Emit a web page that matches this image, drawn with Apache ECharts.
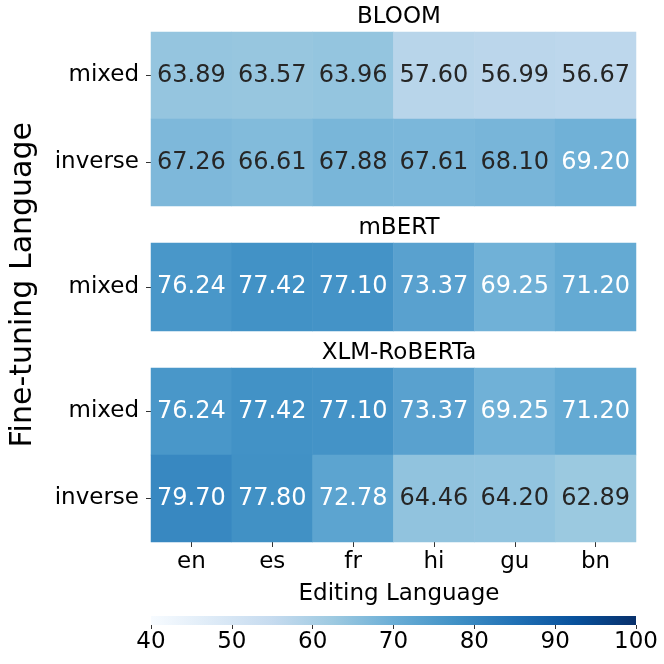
<!DOCTYPE html>
<html>
<head>
<meta charset="utf-8">
<script src="https://cdn.jsdelivr.net/npm/echarts@6/dist/echarts.min.js"></script>
<style>
  html, body { margin: 0; padding: 0; background: #fff; }
  #main { width: 664px; height: 664px; }
</style>
</head>
<body>
<div id="main"></div>
<script>
var myChart = echarts.init(document.getElementById('main'));

// editing languages (columns)
var langs = ['en', 'es', 'fr', 'hi', 'gu', 'bn'];
var rowsTwo = ['mixed', 'inverse'];
var rowsOne = ['mixed'];

var bloomMixed = [63.89, 63.57, 63.96, 57.60, 56.99, 56.67];
var bloomInverse = [67.26, 66.61, 67.88, 67.61, 68.10, 69.20];
var mbertMixed = [76.24, 77.42, 77.10, 73.37, 69.25, 71.20];
var xlmrMixed = [76.24, 77.42, 77.10, 73.37, 69.25, 71.20];
var xlmrInverse = [79.70, 77.80, 72.78, 64.46, 64.20, 62.89];

var cbTicks = [40, 50, 60, 70, 80, 90, 100];

// matplotlib "Blues"
var blues = ['#f7fbff', '#deebf7', '#c6dbef', '#9ecae1', '#6baed6',
             '#4292c6', '#2171b5', '#08519c', '#08306b'];

var font = 'DejaVu Sans';

function cells(rows) {
  var out = [];
  rows.forEach(function (vals, r) {
    vals.forEach(function (v, c) {
      out.push({
        value: [c, r, v],
        label: { color: v > 69 ? '#ffffff' : '#262626' }
      });
    });
  });
  return out;
}

function yAx(idx, cats) {
  return {
    type: 'category', gridIndex: idx, data: cats, inverse: true,
    axisLine: { show: false },
    axisTick: { show: true, length: 5, alignWithLabel: true, lineStyle: { color: '#333' } },
    axisLabel: { fontFamily: font, fontSize: 23, color: '#000', margin: 12 },
    splitArea: { show: false }
  };
}

function xAx(idx, show) {
  return {
    type: 'category', gridIndex: idx, data: langs,
    axisLine: { show: false },
    axisTick: { show: show, length: 5, alignWithLabel: true, lineStyle: { color: '#333' } },
    axisLabel: { show: show, fontFamily: font, fontSize: 23, color: '#000', margin: 9 },
    splitArea: { show: false }
  };
}

function hm(idx, data) {
  return {
    type: 'heatmap', xAxisIndex: idx, yAxisIndex: idx, data: data,
    label: {
      show: true, fontFamily: font, fontSize: 24,
      formatter: function (p) { return p.value[2].toFixed(2); }
    },
    itemStyle: { borderWidth: 0 },
    emphasis: { disabled: true }
  };
}

var titleStyle = { fontFamily: font, fontSize: 23, fontWeight: 'normal', color: '#000' };

option = {
  animation: false,
  title: [
    { text: 'BLOOM', left: 394, top: 1, textAlign: 'center', textStyle: titleStyle },
    { text: 'mBERT', left: 394, top: 212, textAlign: 'center', textStyle: titleStyle },
    { text: 'XLM-RoBERTa', left: 394, top: 337, textAlign: 'center', textStyle: titleStyle },
    { text: 'Editing Language', left: 394, top: 578, textAlign: 'center', textStyle: titleStyle }
  ],
  grid: [
    { left: 151, right: 28, top: 32, height: 174 },
    { left: 151, right: 28, top: 243, height: 88 },
    { left: 151, right: 28, top: 368, height: 174 },
    {
      left: 151, right: 28, top: 616, height: 9, show: true, borderWidth: 0,
      backgroundColor: new echarts.graphic.LinearGradient(0, 0, 1, 0,
        blues.map(function (c, i) { return { offset: i / (blues.length - 1), color: c }; }))
    }
  ],
  xAxis: [
    xAx(0, false), xAx(1, false), xAx(2, true),
    {
      type: 'value', gridIndex: 3, min: cbTicks[0], max: cbTicks[cbTicks.length - 1], interval: 10,
      axisLine: { show: false }, splitLine: { show: false },
      axisTick: { show: true, length: 4, lineStyle: { color: '#333' } },
      axisLabel: { fontFamily: font, fontSize: 23, color: '#000', margin: 6 }
    }
  ],
  yAxis: [
    yAx(0, rowsTwo), yAx(1, rowsOne), yAx(2, rowsTwo),
    { type: 'value', gridIndex: 3, show: false }
  ],
  visualMap: {
    type: 'continuous', show: false, min: 40, max: 100,
    seriesIndex: [0, 1, 2],
    inRange: { color: blues }
  },
  graphic: [{
    type: 'text', left: 8, top: 122, rotation: Math.PI / 2,
    style: { text: 'Fine-tuning Language', font: '30px "DejaVu Sans"', fill: '#000' }
  }],
  series: [
    hm(0, cells([bloomMixed, bloomInverse])),
    hm(1, cells([mbertMixed])),
    hm(2, cells([xlmrMixed, xlmrInverse]))
  ]
};

myChart.setOption(option);
</script>
</body>
</html>
